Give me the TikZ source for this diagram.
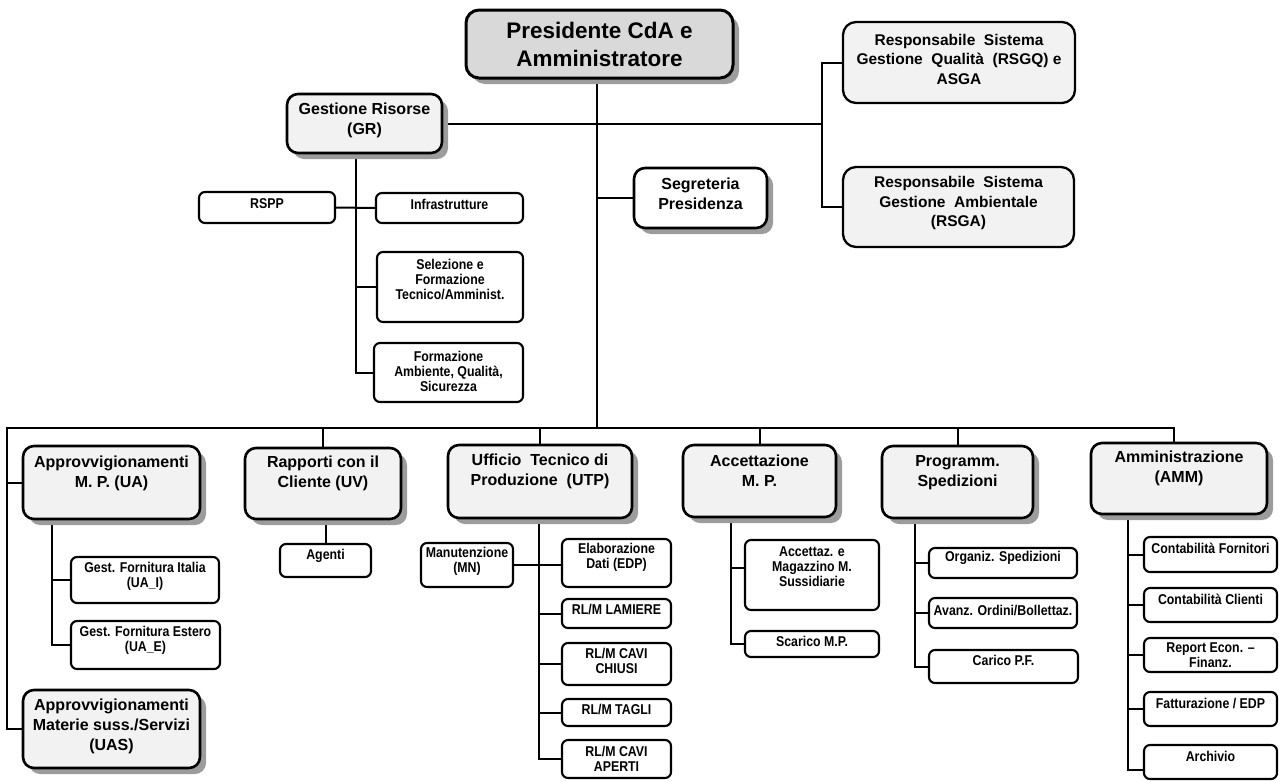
\documentclass[tikz,border=0pt]{standalone}
\usepackage{fontspec}
\setmainfont{Liberation Sans}
\newfontfamily\narrowfont{Liberation Sans}[FakeStretch=0.87]
\usetikzlibrary{shadows,backgrounds}
\definecolor{lightfill}{HTML}{F2F2F2}
\definecolor{presfill}{HTML}{D9D9D9}
\definecolor{shadowc}{HTML}{9C9C9C}
% #1 box style, #2 name, #3 x1, #4 y1, #5 x2, #6 y2, #7 text centre y, #8 text style, #9 text
\newcommand\obox[9]{%
  \pgfmathsetmacro\oboxw{#5-#3}%
  \pgfmathsetmacro\oboxh{#6-#4}%
  \pgfmathsetmacro\oboxcx{(#3+#5)/2}%
  \pgfmathsetmacro\oboxcy{(#4+#6)/2}%
  \node[#1, minimum width=\oboxw pt, minimum height=\oboxh pt] (#2) at (\oboxcx,\oboxcy) {};
  \node[#8] (#2-t) at (\oboxcx,#7) {#9};%
}
\begin{document}
\begin{tikzpicture}[x=1pt,y=-1pt,
  boxbase/.style={draw=black, rounded corners=11pt, inner sep=0pt, outer sep=0pt},
  shad/.style={drop shadow={shadow xshift=6pt,shadow yshift=-6pt,fill=shadowc,opacity=1}},
  presbox/.style={boxbase, line width=3pt, fill=presfill, shad, rounded corners=13pt},
  mainbox/.style={boxbase, line width=2.6pt, fill=lightfill, shad},
  whitebox/.style={boxbase, line width=2.6pt, fill=white, shad},
  rsbox/.style={boxbase, line width=2.3pt, fill=lightfill, rounded corners=13pt},
  subbox/.style={draw=black, line width=2.1pt, fill=white, rounded corners=6pt, inner sep=0pt, outer sep=0pt},
  prestext/.style={font=\bfseries\fontsize{22.5}{28}\selectfont, align=center, inner sep=0pt},
  midtext/.style={font=\bfseries\fontsize{15.5}{19.5}\selectfont, align=center, inner sep=0pt},
  lowtext/.style={font=\bfseries\fontsize{16}{20}\selectfont, align=center, inner sep=0pt},
  subtext/.style={font=\narrowfont\bfseries\fontsize{14.2}{15}\selectfont, align=center, inner sep=0pt},
  conn/.style={draw=black, line width=2pt},
]
\useasboundingbox (0,0) rectangle (1279,780);

% ---------- top level ----------
\obox{presbox}{pres}{466}{10}{733}{78}{44}{prestext}{Presidente CdA e\\Amministratore}
\obox{mainbox}{gr}{287}{94}{442}{153}{120}{lowtext}{Gestione Risorse\\(GR)}
\obox{whitebox}{seg}{634}{168}{767}{228}{194}{lowtext}{Segreteria\\Presidenza}
\obox{rsbox}{rsgq}{843}{22}{1075}{103}{59}{midtext}{Responsabile~~Sistema\\Gestione~~Qualità~~(RSGQ) e\\ASGA}
\obox{rsbox}{rsga}{843}{167}{1074}{247}{203}{midtext}{Responsabile~~Sistema\\Gestione~~Ambientale\\(RSGA)}

% ---------- GR sub-units ----------
\obox{subbox}{rspp}{199}{192}{335}{223}{204}{subtext}{RSPP}
\obox{subbox}{infra}{376}{193}{523}{223}{204}{subtext}{Infrastrutture}
\obox{subbox}{sel}{377}{252}{523}{322}{279}{subtext}{Selezione e\\Formazione\\Tecnico/Amminist.}
\obox{subbox}{form}{374}{343}{523}{402}{371}{subtext}{Formazione\\Ambiente, Qualità,\\Sicurezza}

% ---------- lower level ----------
\obox{mainbox}{ua}{23}{446}{200}{519}{473}{lowtext}{Approvvigionamenti\\M. P. (UA)}
\obox{mainbox}{uas}{23}{690}{200}{768}{726}{lowtext}{Approvvigionamenti\\Materie suss./Servizi\\(UAS)}
\obox{mainbox}{uv}{245}{448}{401}{519}{473}{lowtext}{Rapporti con il\\Cliente (UV)}
\obox{mainbox}{utp}{448}{445}{632}{518}{471}{lowtext}{Ufficio~~Tecnico di\\Produzione~~(UTP)}
\obox{mainbox}{acc}{683}{445}{836}{517}{471}{lowtext}{Accettazione\\M. P.}
\obox{mainbox}{prog}{882}{446}{1033}{518}{473}{lowtext}{Programm.\\Spedizioni}
\obox{mainbox}{amm}{1091}{443}{1267}{514}{468}{lowtext}{Amministrazione\\(AMM)}

% ---------- sub-units ----------
\obox{subbox}{agenti}{280}{544}{371}{577}{556}{subtext}{Agenti}
\obox{subbox}{gfi}{71}{557}{219}{603}{576}{subtext}{Gest. Fornitura Italia\\(UA\_I)}
\obox{subbox}{gfe}{71}{621}{220}{669}{640}{subtext}{Gest. Fornitura Estero\\(UA\_E)}

\obox{subbox}{man}{421}{543}{513}{587}{561}{subtext}{Manutenzione\\(MN)}
\obox{subbox}{edp}{562}{539}{671}{587}{557}{subtext}{Elaborazione\\Dati (EDP)}
\obox{subbox}{lam}{562}{599}{671}{628}{609}{subtext}{RL/M LAMIERE}
\obox{subbox}{chiusi}{562}{643}{671}{685}{661}{subtext}{RL/M CAVI\\CHIUSI}
\obox{subbox}{tagli}{562}{699}{671}{726}{709}{subtext}{RL/M TAGLI}
\obox{subbox}{aperti}{562}{740}{671}{778}{759}{subtext}{RL/M CAVI\\APERTI}

\obox{subbox}{accm}{745}{540}{879}{610}{567}{subtext}{Accettaz. e\\Magazzino M.\\Sussidiarie}
\obox{subbox}{scar}{745}{631}{879}{657}{641}{subtext}{Scarico M.P.}

\obox{subbox}{org}{929}{548}{1077}{578}{558}{subtext}{Organiz. Spedizioni}
\obox{subbox}{avanz}{929}{598}{1077}{628}{610}{subtext}{Avanz. Ordini/Bollettaz.}
\obox{subbox}{carico}{929}{650}{1078}{683}{660}{subtext}{Carico P.F.}

\obox{subbox}{cf}{1144}{537}{1277}{572}{548}{subtext}{Contabilità Fornitori}
\obox{subbox}{cc}{1144}{588}{1277}{622}{599}{subtext}{Contabilità Clienti}
\obox{subbox}{rep}{1144}{638}{1277}{672}{655}{subtext}{Report Econ. –\\Finanz.}
\obox{subbox}{fatt}{1144}{692}{1277}{726}{703}{subtext}{Fatturazione / EDP}
\obox{subbox}{arch}{1144}{745}{1277}{779}{756}{subtext}{Archivio}

% ---------- connector guide coordinates ----------
\coordinate (mx) at (597,0);
\coordinate (rx) at (822,0);
\coordinate (gx) at (356,0);
\coordinate (busL) at (7,428);
\coordinate (busR) at (1174,428);
\coordinate (ux) at (52,0);
\coordinate (tx) at (539,0);
\coordinate (ax) at (731,0);
\coordinate (px) at (915,0);
\coordinate (amx) at (1128,0);
\coordinate (accmin) at ([yshift=7pt]accm.west);
\coordinate (archin) at ([yshift=-8pt]arch.west);

\begin{pgfonlayer}{background}
% top
\draw[conn] (pres.south -| mx) -- (mx |- busL);
\draw[conn] (seg.west -| mx) -- (seg.west);
\draw[conn] (gr.east) -- (gr.east -| rx);
\draw[conn] (rsgq.west) -- (rsgq.west -| rx) -- (rsga.west -| rx) -- (rsga.west);
% GR
\draw[conn] (gr.south -| gx) -- (gx |- form.west) -- (form.west);
\draw[conn] (rspp.east) -- (infra.west);
\draw[conn] (sel.west -| gx) -- (sel.west);
% bus
\draw[conn] (uas.west) -| (busL) -- (busR) -- (busR |- amm.north);
\draw[conn] (ua.west -| busL) -- (ua.west);
\draw[conn] (uv.north |- busL) -- (uv.north);
\draw[conn] (utp.north |- busL) -- (utp.north);
\draw[conn] (acc.north |- busL) -- (acc.north);
\draw[conn] (prog.north |- busL) -- (prog.north);
% UA
\draw[conn] (ua.south -| ux) -- (ux |- gfe.west) -- (gfe.west);
\draw[conn] (gfi.west -| ux) -- (gfi.west);
% UV
\draw[conn] (agenti.north |- uv.south) -- (agenti.north);
% UTP
\draw[conn] (utp.south -| tx) -- (tx |- aperti.west) -- (aperti.west);
\draw[conn] (man.east) -- (man.east -| edp.west);
\draw[conn] (lam.west -| tx) -- (lam.west);
\draw[conn] (chiusi.west -| tx) -- (chiusi.west);
\draw[conn] (tagli.west -| tx) -- (tagli.west);
% Accettazione
\draw[conn] (acc.south -| ax) -- (ax |- scar.west) -- (scar.west);
\draw[conn] (accmin -| ax) -- (accmin);
% Programm.
\draw[conn] (prog.south -| px) -- (px |- carico.west) -- (carico.west);
\draw[conn] (org.west -| px) -- (org.west);
\draw[conn] (avanz.west -| px) -- (avanz.west);
% AMM
\draw[conn] (amm.south -| amx) -- (amx |- archin) -- (archin);
\draw[conn] (cf.west -| amx) -- (cf.west);
\draw[conn] (cc.west -| amx) -- (cc.west);
\draw[conn] (rep.west -| amx) -- (rep.west);
\draw[conn] (fatt.west -| amx) -- (fatt.west);
\end{pgfonlayer}
\end{tikzpicture}
\end{document}
